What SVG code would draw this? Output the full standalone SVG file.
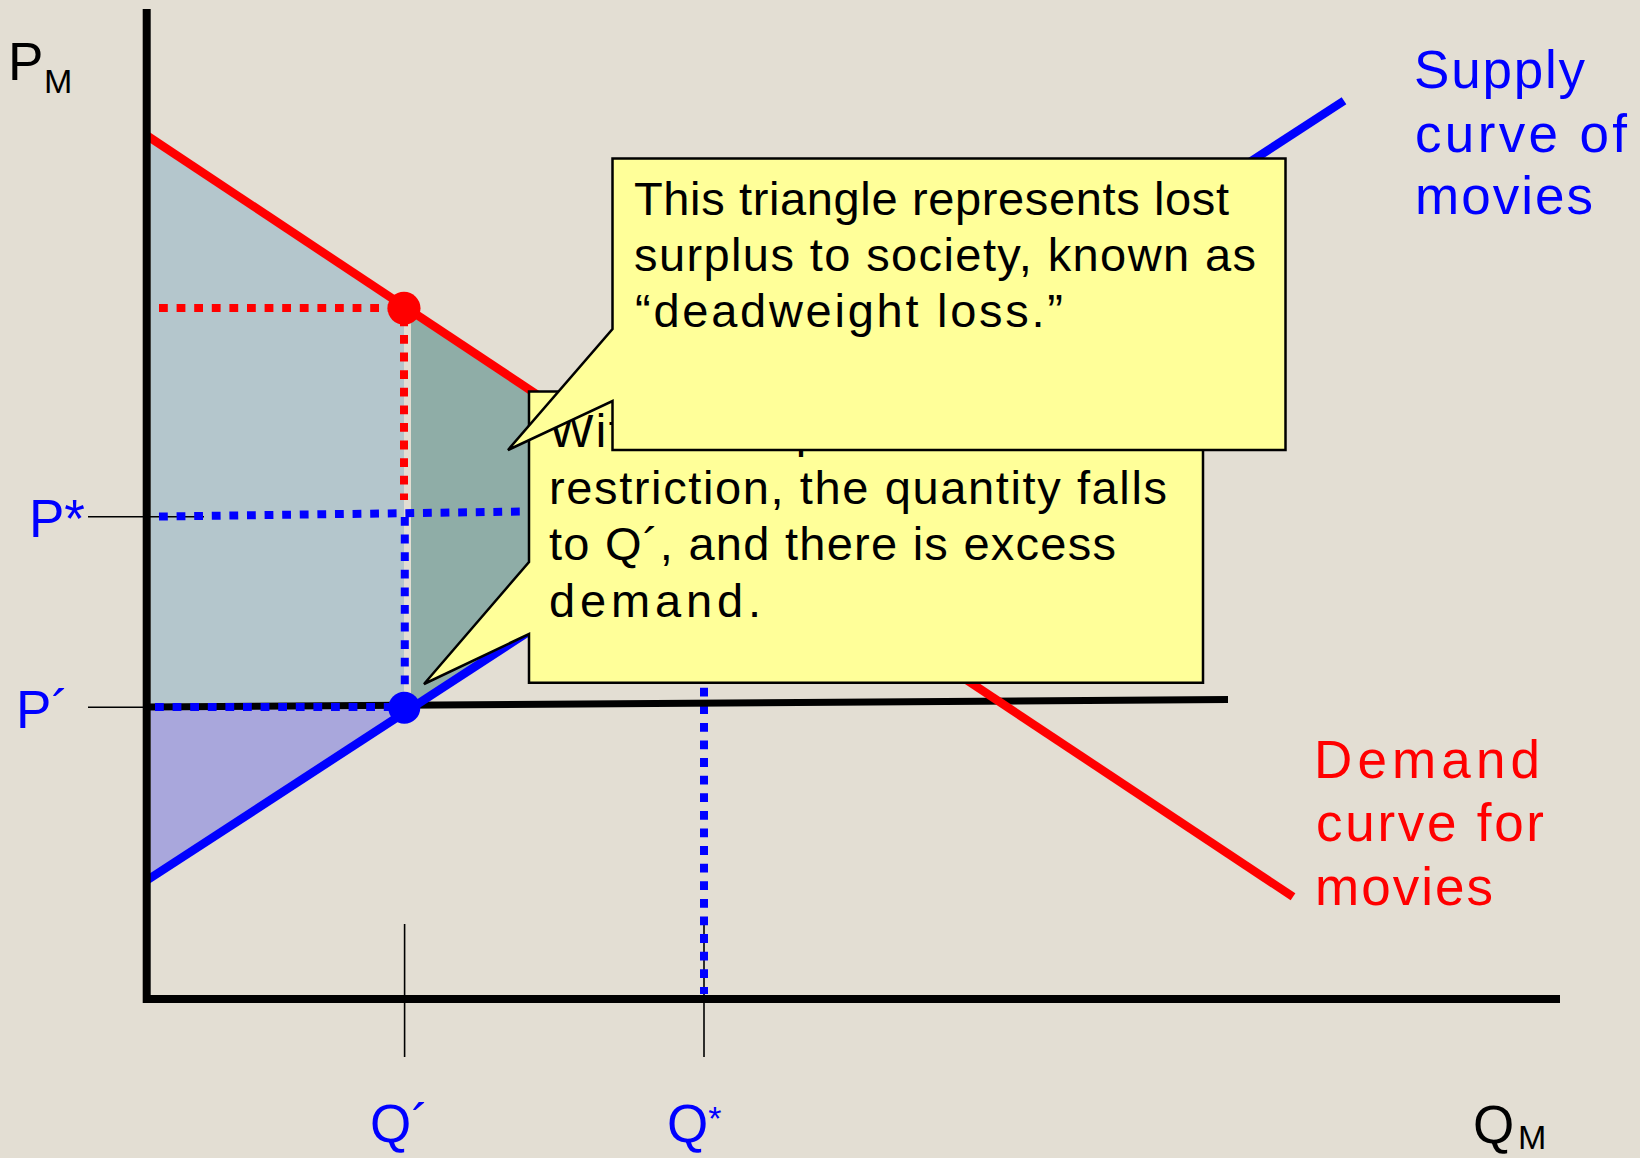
<svg xmlns="http://www.w3.org/2000/svg" width="1640" height="1158" viewBox="0 0 1640 1158">
<style>
  .f{font-family:"Liberation Sans",Arial,sans-serif}
  .big{font-size:53px}
  .sub{font-size:34px}
  .blue{fill:#0000FF}
  .red{fill:#FF0000}
  .blk{fill:#000000}
  .co{font-family:"Liberation Sans",Arial,sans-serif;font-size:47px;fill:#000000}
  .box{fill:#FFFF99;stroke:#000000;stroke-width:2.5;stroke-linejoin:miter}
  .tick{stroke:#000000;stroke-width:1.6;fill:none}
  .dotb{stroke:#0000FF;stroke-width:8;stroke-dasharray:8.8 8.8;fill:none}
  .dotr{stroke:#FF0000;stroke-width:8;stroke-dasharray:8.8 8.8;fill:none}
</style>
<rect x="0" y="0" width="1640" height="1158" fill="#E3DED3"/>

<g id="regions">
  <polygon id="consumer-area" points="150.7,138 404,306.3 404,707 150.7,707" fill="#B4C6CC"/>
  <polygon id="deadweight-loss" points="411,310.9 713.5,511.4 411,708.3" fill="#8FADA7"/>
  <polygon id="producer-area" points="150.7,707 413,707 150.7,878" fill="#A9A7DC"/>
</g>

<g id="ticks">
  <line class="tick" x1="88" y1="516.7" x2="204" y2="516.7"/>
  <line class="tick" x1="88" y1="707.3" x2="150" y2="707.3"/>
  <line class="tick" x1="404.6" y1="924" x2="404.6" y2="1057"/>
  <line class="tick" x1="704" y1="924" x2="704" y2="1057"/>
</g>

<g id="guides">
  <path class="dotr" d="M159,308 H400"/>
  <path class="dotr" d="M404,317.4 V500"/>
  <path class="dotb" d="M159,516.5 L528,511.5"/>
  <path class="dotb" d="M404.8,517 V700"/>
  <path class="dotb" d="M704,511.7 V994"/>
</g>

<g id="connectors">
  <line id="price-ceiling" x1="147" y1="707" x2="1228" y2="699.5" stroke="#000000" stroke-width="7"/>
  <path class="dotb" d="M155,707 H396"/>
  <line id="demand" x1="147" y1="135.6" x2="1293" y2="896.8" stroke="#FF0000" stroke-width="8.5"/>
  <line id="supply" x1="147" y1="880.3" x2="1344" y2="100.7" stroke="#0000FF" stroke-width="8.5"/>
  <polyline id="axes" points="146.7,9 146.7,999 1560,999" fill="none" stroke="#000000" stroke-width="8"/>
</g>

<g id="points">
  <circle id="restricted-point" cx="404" cy="308.3" r="16.5" fill="#FF0000"/>
  <circle id="supply-point" cx="404.3" cy="707.7" r="16" fill="#0000FF"/>
</g>

<g id="callout-restriction">
  <path class="box" d="M529,391.5 H1203 V682.7 H529 V634 L424,684 L529,562 Z"/>
  <text class="co" x="549" y="447" textLength="335">With an import</text>
  <text class="co" x="549" y="503.5" textLength="618">restriction, the quantity falls</text>
  <text class="co" x="549" y="560" textLength="567">to Q´, and there is excess</text>
  <text class="co" x="549" y="616.5" textLength="212">demand.</text>
</g>

<g id="callout-deadweight">
  <path class="box" d="M612.5,158.5 H1285.5 V450 H612.5 V401 L508,450 L612.5,329 Z"/>
  <text class="co" x="634" y="215" textLength="595">This triangle represents lost</text>
  <text class="co" x="634" y="271" textLength="622">surplus to society, known as</text>
  <text class="co" x="635" y="327" textLength="428">“deadweight loss.”</text>
</g>

<g id="label-supply">
  <text class="f big blue" x="1414" y="88" textLength="171">Supply</text>
  <text class="f big blue" x="1415" y="152" textLength="212">curve of</text>
  <text class="f big blue" x="1415" y="213.5" textLength="178">movies</text>
</g>

<g id="label-demand">
  <text class="f big red" x="1314" y="778" textLength="226">Demand</text>
  <text class="f big red" x="1316" y="841" textLength="228">curve for</text>
  <text class="f big red" x="1315" y="904.5" textLength="178">movies</text>
</g>

<g id="axis-labels">
  <text class="f big blk" x="8" y="80">P</text>
  <text class="f sub blk" x="44" y="92.7">M</text>
  <text class="f big blk" x="1473" y="1143">Q</text>
  <text class="f sub blk" x="1518" y="1149">M</text>
  <text class="f big blue" x="29" y="536.5">P*</text>
  <text class="f big blue" x="16" y="727.5">P´</text>
  <text class="f big blue" x="370" y="1142">Q´</text>
  <text class="f big blue" x="667" y="1142">Q<tspan font-size="34" dy="-12">*</tspan></text>
</g>
</svg>
